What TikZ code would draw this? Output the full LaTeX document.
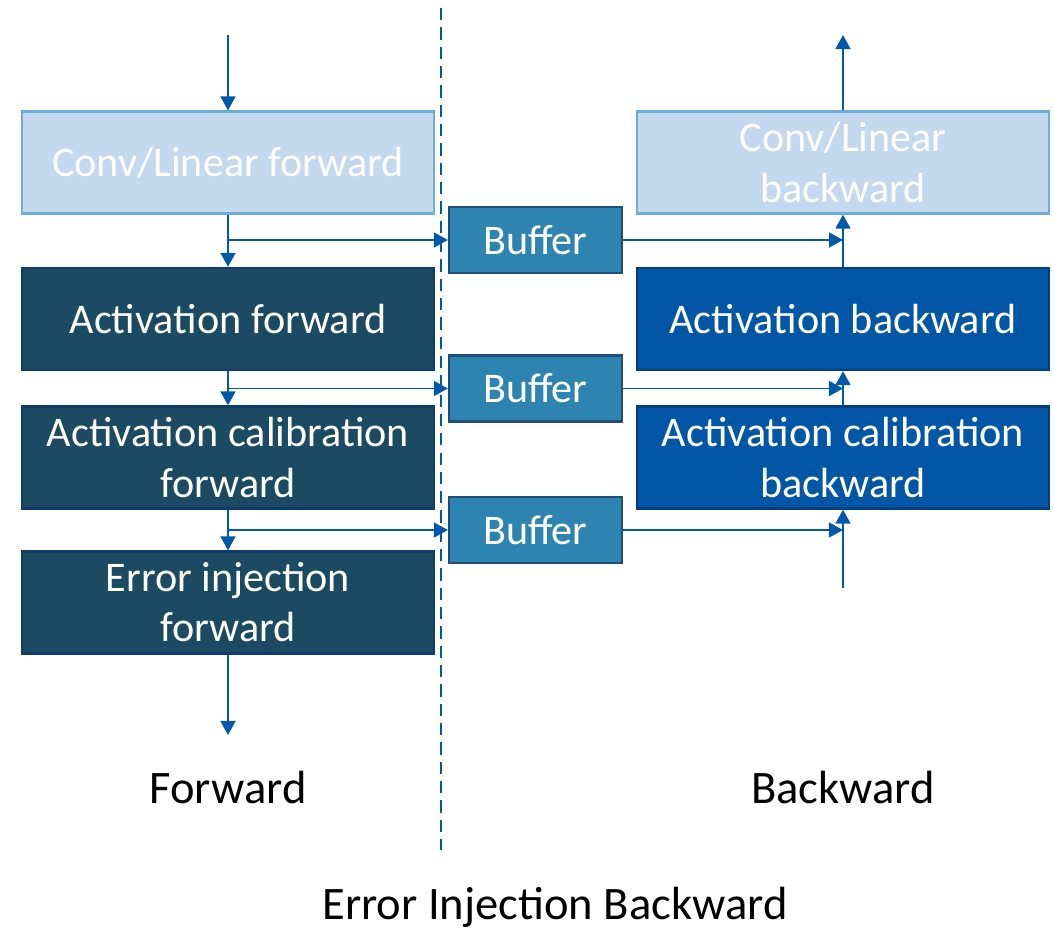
\documentclass[tikz,border=0pt]{standalone}
\usepackage{fontspec}
\setmainfont{Carlito}
\usetikzlibrary{arrows.meta,positioning}

\definecolor{flowblue}{HTML}{0157A8}
\definecolor{convfill}{HTML}{C5D9EE}
\definecolor{convedge}{HTML}{6BAED8}
\definecolor{fwdfill}{HTML}{1B4A62}
\definecolor{fwdedge}{HTML}{0E3C6C}
\definecolor{buffill}{HTML}{2D84B0}
\definecolor{bufedge}{HTML}{1E4E79}
\definecolor{bwdfill}{HTML}{0256A6}
\definecolor{bwdedge}{HTML}{003F82}

\tikzset{
  blk/.style={line width=1.3pt, minimum width=8.24cm, minimum height=2.04cm,
    inner sep=0pt, text=white, align=center, font=\fontsize{24}{28.5}\selectfont},
  convblk/.style={blk, fill=convfill, draw=convedge},
  fwdblk/.style={blk, fill=fwdfill, draw=fwdedge},
  bwdblk/.style={blk, fill=bwdfill, draw=bwdedge},
  bufblk/.style={blk, fill=buffill, draw=bufedge, minimum width=3.46cm, minimum height=1.32cm},
  flow/.style={-{Triangle[width=8.5pt,length=8pt]}, line width=1.1pt, draw=flowblue, fill=flowblue},
  lbl/.style={font=\fontsize{26.5}{30}\selectfont}
}

\begin{document}
\begin{tikzpicture}[x=0.02cm, y=-0.02cm]
  \useasboundingbox (0,0) rectangle (1054,932);

  % divider
  \draw[flowblue, line width=1.1pt, dash pattern=on 7pt off 4pt] (441,8) -- (441,850);

  % forward column
  \node[convblk] (cf)  at (228,162.5) {Conv/Linear forward};
  \node[fwdblk]  (af)  at (228,319)   {Activation forward};
  \node[fwdblk]  (acf) at (228,457.5) {Activation calibration\\forward};
  \node[fwdblk]  (eif) at (228,602.5) {Error injection\\forward};
  \coordinate (fin)  at (228,35);
  \coordinate (fout) at (228,735);

  % buffers
  \node[bufblk] (buf1) at (535.5,240)   {Buffer};
  \node[bufblk] (buf2) at (535.5,388.5) {Buffer};
  \node[bufblk] (buf3) at (535.5,530)   {Buffer};

  % backward column
  \node[convblk] (cb)  at (843,162.5) {Conv/Linear\\backward};
  \node[bwdblk]  (ab)  at (843,319)   {Activation backward};
  \node[bwdblk]  (acb) at (843,457.5) {Activation calibration\\backward};
  \coordinate (bin)  at (843,588);
  \coordinate (bout) at (843,35);

  % forward arrows
  \draw[flow] (fin) -- (cf.north);
  \draw[flow] (cf.south) -- (af.north);
  \draw[flow] (af.south) -- (acf.north);
  \draw[flow] (acf.south) -- (eif.north);
  \draw[flow] (eif.south) -- (fout);

  % into the buffers
  \draw[flow] (cf.south |- buf1.west) -- (buf1.west);
  \draw[flow] (af.south |- buf2.west) -- (buf2.west);
  \draw[flow] (acf.south |- buf3.west) -- (buf3.west);

  % out of the buffers
  \draw[flow] (buf1.east) -- (cb.south |- buf1.east);
  \draw[flow] (buf2.east) -- (ab.south |- buf2.east);
  \draw[flow] (buf3.east) -- (acb.south |- buf3.east);

  % backward arrows
  \draw[flow] (bin) -- (acb.south);
  \draw[flow] (acb.north) -- (ab.south);
  \draw[flow] (ab.north) -- (cb.south);
  \draw[flow] (cb.north) -- (bout);

  % captions
  \node[lbl] (fwdlbl) at (228,787) {Forward};
  \node[lbl] (bwdlbl) at (843,787) {Backward};
  \node[lbl] (title)  at (555,907) {Error Injection Backward};
\end{tikzpicture}
\end{document}
